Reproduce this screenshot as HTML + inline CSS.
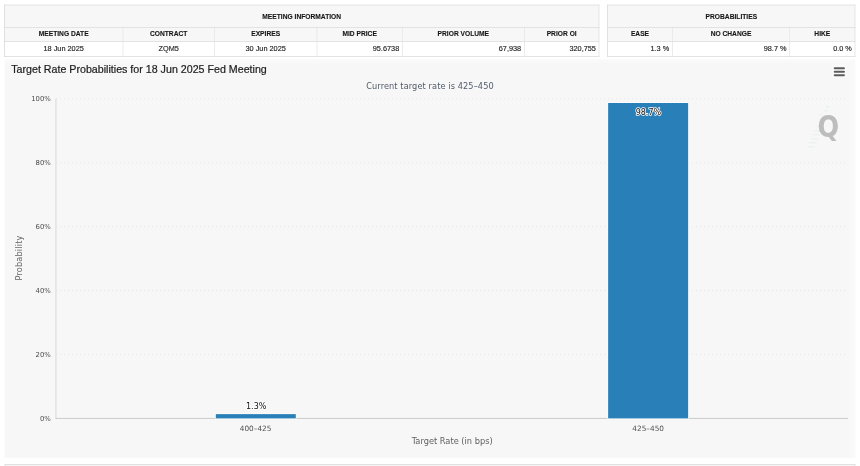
<!DOCTYPE html>
<html lang="en">
<head>
<meta charset="utf-8">
<title>Target Rate Probabilities for 18 Jun 2025 Fed Meeting</title>
<style>
html,body{margin:0;padding:0;background:#fff;}
body{width:860px;height:466px;overflow:hidden;position:relative;}
#stage{position:absolute;left:0;top:0;width:1290px;height:699px;transform:scale(0.666667);transform-origin:0 0;font-family:"Liberation Sans",sans-serif;color:#333;}
table.grid{position:absolute;border-collapse:collapse;table-layout:fixed;font-size:11px;}
table.grid th,table.grid td{border:1px solid #d6d6d6;border-left-color:#e2e2e2;border-right-color:#e2e2e2;padding:0 5px;box-sizing:border-box;overflow:hidden;white-space:nowrap;}
table.grid th{background:#f7f7f7;font-weight:bold;font-size:10px;color:#151515;text-align:center;-webkit-text-stroke:0.15px #151515;}
table.grid tr.h1 th{height:34px;padding-bottom:0.4px;}
table.grid tr.h2 th{height:21px;padding:0 5px 3.2px 5px;}
table.grid tr.d td{height:22px;background:#fff;text-align:right;color:#1c1c1c;padding:0 4.2px 2.8px 4.2px;-webkit-text-stroke:0.2px #1c1c1c;}
table.grid tr.d td.c{text-align:center;}
#t1{left:6px;top:7px;width:892px;}
table.grid th:first-child,table.grid td:first-child{border-left-color:#d2d2d2;}
table.grid th:last-child,table.grid td:last-child{border-right-color:#dadada;}
#t2{left:911px;top:7px;width:371px;}
#chartwrap{position:absolute;left:7px;top:89.3px;width:1276px;height:598px;background:#f9f9f9;}
#chartbg{position:absolute;left:0;top:5.5px;width:1266.5px;height:590.5px;background:#f7f7f7;}
#title{position:absolute;left:16.8px;top:94px;font-size:16px;line-height:20px;color:#1c1c1c;white-space:nowrap;-webkit-text-stroke:0.3px #1c1c1c;}
#next{position:absolute;left:6.6px;top:695.6px;width:1276px;height:10px;border:1px solid #d8d8d8;background:#f5f5f5;box-sizing:border-box;}
svg{position:absolute;left:0;top:0;}
svg text{font-family:"DejaVu Sans","Liberation Sans",sans-serif;}
</style>
</head>
<body>
<div id="stage">
  <table class="grid" id="t1">
    <colgroup><col style="width:178px"><col style="width:137px"><col style="width:154px"><col style="width:128px"><col style="width:183px"><col style="width:112px"></colgroup>
    <tr class="h1"><th colspan="6">MEETING INFORMATION</th></tr>
    <tr class="h2"><th>MEETING DATE</th><th>CONTRACT</th><th>EXPIRES</th><th>MID PRICE</th><th>PRIOR VOLUME</th><th>PRIOR OI</th></tr>
    <tr class="d"><td class="c">18 Jun 2025</td><td class="c">ZQM5</td><td class="c">30 Jun 2025</td><td>95.6738</td><td>67,938</td><td>320,755</td></tr>
  </table>
  <table class="grid" id="t2">
    <colgroup><col style="width:97px"><col style="width:176px"><col style="width:98px"></colgroup>
    <tr class="h1"><th colspan="3">PROBABILITIES</th></tr>
    <tr class="h2"><th>EASE</th><th>NO CHANGE</th><th>HIKE</th></tr>
    <tr class="d"><td>1.3 %</td><td>98.7 %</td><td>0.0 %</td></tr>
  </table>

  <div id="chartwrap"><div id="chartbg"></div></div>
  <div id="title">Target Rate Probabilities for 18 Jun 2025 Fed Meeting</div>

  <svg width="1290" height="699" viewBox="0 0 1290 699">
    <!-- grid lines -->
    <g stroke="#dedede" stroke-width="1" stroke-dasharray="1.5,4.5" fill="none">
      <path d="M84 148.3H1272"/>
      <path d="M84 244.15H1272"/>
      <path d="M84 340H1272"/>
      <path d="M84 435.85H1272"/>
      <path d="M84 531.7H1272"/>
    </g>
    <!-- axes -->
    <path d="M83.9 148V628" stroke="#c8c8c8" stroke-width="1" fill="none"/>
    <path d="M83.4 627.6H1272" stroke="#b4b4b4" stroke-width="1" fill="none"/>
    <!-- bars -->
    <rect x="323.7" y="621.2" width="120" height="6.4" fill="#2980b9" stroke="#fff" stroke-width="1.6" paint-order="stroke"/>
    <rect x="912.2" y="154.5" width="120" height="473.1" fill="#2980b9" stroke="#fff" stroke-width="1.6" paint-order="stroke"/>
    <!-- subtitle -->
    <text x="645" y="133" text-anchor="middle" font-size="12.3" letter-spacing="0.15" fill="#505a6a">Current target rate is 425–450</text>
    <!-- y labels -->
    <g font-size="10.3" fill="#4a4a4a" text-anchor="end">
      <text x="76.3" y="151.5">100%</text>
      <text x="76.3" y="247.5">80%</text>
      <text x="76.3" y="343.5">60%</text>
      <text x="76.3" y="439.5">40%</text>
      <text x="76.3" y="535.5">20%</text>
      <text x="76.3" y="631.5">0%</text>
    </g>
    <!-- x labels -->
    <g font-size="11" fill="#505050" text-anchor="middle">
      <text x="383.4" y="646.3">400–425</text>
      <text x="972.2" y="646.3">425–450</text>
    </g>
    <!-- axis titles -->
    <text x="678.3" y="666.2" text-anchor="middle" font-size="12.4" fill="#606060">Target Rate (in bps)</text>
    <text transform="translate(32.5,387) rotate(-90)" text-anchor="middle" font-size="12.3" letter-spacing="0.25" fill="#666">Probability</text>
    <!-- data labels -->
    <g font-size="12" text-anchor="middle" fill="#111" stroke="#fff" stroke-width="2.4" stroke-linejoin="round" paint-order="stroke">
      <text x="384.3" y="613">1.3%</text>
      <text x="972.6" y="172.4">98.7%</text>
    </g>
    <!-- menu button -->
    <g>
      <rect x="1248" y="96" width="23" height="22" rx="2" fill="#f9f9f9"/>
      <path d="M1252 102.4H1266M1252 107.6H1266M1252 112.8H1266" stroke="#5c5c5c" stroke-width="2.8" stroke-linecap="round" fill="none"/>
    </g>
    <!-- watermark -->
    <g>
      <path d="M1239.0 160H1244.0M1236.2 166H1242.4M1233.4 172H1229.5M1230.6 178H1229.5M1227.8 184H1229.5M1225.0 190H1229.5M1222.2 196H1229.5M1219.4 202H1229.5M1216.6 208H1227.6M1213.8 214H1224.8M1211.0 220H1222.0" stroke="#d3ebee" stroke-width="1.5" fill="none" opacity="0.5"/>
      <text x="0" y="0" transform="translate(1226.1,206.2) scale(0.87,1)" font-size="44" font-weight="bold" fill="#bdbdbd" style="font-family:'DejaVu Sans','Liberation Sans',sans-serif">Q</text>
    </g>
  </svg>
  <div id="next"></div>
</div>
</body>
</html>
